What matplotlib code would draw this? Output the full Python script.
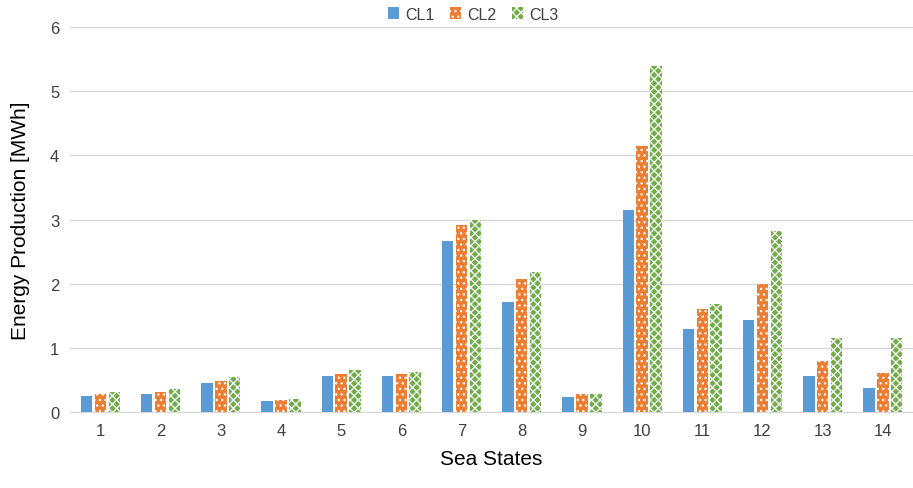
import numpy as np
import matplotlib
matplotlib.use("Agg")
import matplotlib.pyplot as plt

plt.rcParams['font.family'] = ['Liberation Sans', 'DejaVu Sans']
plt.rcParams['hatch.linewidth'] = 1.0

sea_states = [str(i) for i in range(1, 15)]
cl1 = [0.25, 0.28, 0.45, 0.17, 0.56, 0.56, 2.67, 1.72, 0.23, 3.15, 1.30, 1.44, 0.56, 0.38]
cl2 = [0.28, 0.31, 0.49, 0.19, 0.60, 0.60, 2.91, 2.08, 0.28, 4.14, 1.60, 2.00, 0.79, 0.61]
cl3 = [0.31, 0.36, 0.55, 0.20, 0.65, 0.63, 3.00, 2.19, 0.29, 5.39, 1.69, 2.82, 1.15, 1.16]
series = ["CL1", "CL2", "CL3"]


def main():
    fig = plt.figure(figsize=(9.13, 4.89), dpi=100)
    ax = fig.add_axes([0.077, 0.155, 0.923, 0.788])

    x = np.arange(len(sea_states))
    w = 0.19
    step = 0.23
    colors = ["#5B9BD5", "#ED7D31", "#70AD47"]
    hatches = [None, "...", "xxxx"]
    for k, (name, vals) in enumerate(zip(series, [cl1, cl2, cl3])):
        bars = ax.bar(x + (k - 1) * step, vals, w, color=colors[k], label=name,
                      hatch=hatches[k], zorder=3, linewidth=0)
        if hatches[k]:
            for b in bars:
                b.set_edgecolor("#F4F4F4")
                b.set_linewidth(0)

    ax.set_xlim(-0.5, len(sea_states) - 0.5)
    ax.set_ylim(0, 6)
    ax.set_yticks(range(0, 7))
    ax.set_xticks(x)
    ax.set_xticklabels(sea_states)
    ax.tick_params(axis="both", length=0, labelsize=12, colors="#404040", pad=8)
    ax.yaxis.grid(True, color="#D9D9D9", linewidth=1, zorder=0)
    for s in ["top", "right", "left"]:
        ax.spines[s].set_visible(False)
    ax.spines["bottom"].set_color("#D9D9D9")

    ax.set_xlabel("Sea States", fontsize=15, labelpad=8)
    ax.set_ylabel("Energy Production [MWh]", fontsize=15, labelpad=14)

    leg = ax.legend(loc="upper center", bbox_to_anchor=(0.478, 1.09), ncol=3, frameon=False,
                    fontsize=11.5, handlelength=0.7, handleheight=0.7, columnspacing=1.0,
                    handletextpad=0.35)
    for t in leg.get_texts():
        t.set_color("#404040")

    fig.savefig("out.png", dpi=100)


if __name__ == "__main__":
    main()
